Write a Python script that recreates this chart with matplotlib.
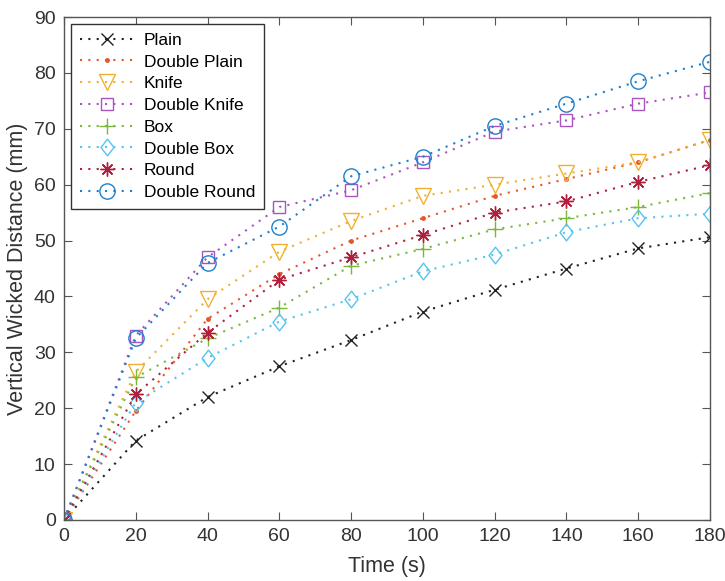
import matplotlib
matplotlib.use("Agg")
import matplotlib.pyplot as plt
from matplotlib.path import Path

plt.rcParams['font.family'] = ['Liberation Sans', 'DejaVu Sans']

time_s = [0, 20, 40, 60, 80, 100, 120, 140, 160, 180]
plain = [0, 14.2, 22.0, 27.5, 32.2, 37.3, 41.2, 45.0, 48.6, 50.6]
double_plain = [0, 19.5, 36.0, 44.0, 50.0, 54.0, 58.0, 61.0, 64.0, 68.0]
knife = [0, 26.5, 39.5, 48.0, 53.5, 58.0, 60.0, 62.0, 64.0, 68.0]
double_knife = [0, 33.0, 47.0, 56.0, 59.0, 64.0, 69.5, 71.5, 74.5, 76.5]
box = [0, 25.5, 32.5, 38.0, 45.5, 48.5, 52.0, 54.0, 56.0, 58.5]
double_box = [0, 21.0, 29.0, 35.5, 39.5, 44.5, 47.5, 51.5, 54.0, 54.8]
round_ = [0, 22.5, 33.5, 43.0, 47.0, 51.0, 55.0, 57.0, 60.5, 63.5]
double_round = [0, 32.5, 46.0, 52.5, 61.5, 65.0, 70.5, 74.5, 78.5, 82.0]

labels = ['Plain', 'Double Plain', 'Knife', 'Double Knife', 'Box',
          'Double Box', 'Round', 'Double Round']
series = [plain, double_plain, knife, double_knife, box, double_box, round_, double_round]
colors = ['#222222', '#E8552A', '#F0B030', '#A855C0', '#7AB83A', '#55C4F0', '#B0203C', '#1E80CC']
diamond = Path([(0, 1), (0.78, 0), (0, -1), (-0.78, 0), (0, 1)],
               [Path.MOVETO, Path.LINETO, Path.LINETO, Path.LINETO, Path.CLOSEPOLY])
markers = ['x', '.', 'v', 's', '+', diamond, (8, 2, 0), 'o']
msizes = [8, 5, 11, 8, 11, 12, 10, 11]
fills = ['full', 'full', 'none', 'none', 'full', 'none', 'full', 'none']

fig = plt.figure(figsize=(7.25, 5.81), dpi=100)
ax = fig.add_axes([64/725, 1-520/581, (710-64)/725, (520-17)/581])

for y, lab, c, m, ms, f in zip(series, labels, colors, markers, msizes, fills):
    ax.plot(time_s, y, linestyle=(0, (1, 3)), linewidth=1.5, color=c,
            marker=m, markersize=ms, fillstyle=f, markeredgewidth=1.0,
            markerfacecolor='none' if f == 'none' else c,
            label=lab)

ax.set_xlim(0, 180)
ax.set_ylim(0, 90)
ax.set_xticks(range(0, 181, 20))
ax.set_yticks(range(0, 91, 10))
ax.tick_params(direction='in', top=True, right=True, labelsize=14,
               length=6, width=0.8, color='#555555', labelcolor='#333333', pad=6)
for sp in ax.spines.values():
    sp.set_color('#555555')
    sp.set_linewidth(1.0)
ax.set_xlabel('Time (s)', fontsize=15.5, color='#333333', labelpad=8)
ax.set_ylabel('Vertical Wicked Distance (mm)', fontsize=15.5, color='#333333', labelpad=4)

leg = ax.legend(loc='upper left', fontsize=12.5, handlelength=3.2, numpoints=1,
                fancybox=False, edgecolor='#333333', framealpha=1,
                borderpad=0.5, labelspacing=0.38, handletextpad=0.5,
                borderaxespad=0.4)
leg.get_frame().set_linewidth(1.0)

fig.savefig('out.png', dpi=100)
